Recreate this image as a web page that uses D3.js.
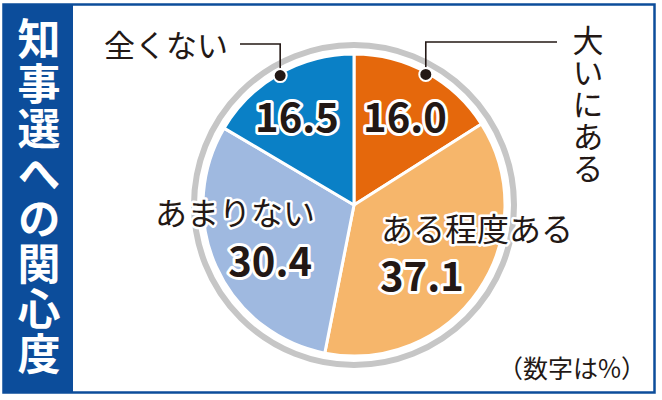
<!DOCTYPE html>
<html>
<head>
<meta charset="utf-8">
<script src="https://cdn.jsdelivr.net/npm/d3@7"></script>
<style>
  html, body { margin: 0; padding: 0; background: #fff; }
  svg { display: block; }
  text { font-family: "Noto Sans CJK JP", "Noto Sans", sans-serif; }
</style>
</head>
<body>
<svg id="chart" width="662" height="400"></svg>
<script>
// Data
const categories = ['大いにある', 'ある程度ある', 'あまりない', '全くない'];
const values = [16.0, 37.1, 30.4, 16.5];
const valueLabels = ['16.0', '37.1', '30.4', '16.5'];
const colors = ['#e5680c', '#f6b66b', '#9fb9e0', '#0a80c6'];
const title = '知事選への関心度';
const note = '（数字は%）';

const NAVY = '#0c4d9b';
const W = 662, H = 400;
const cx = 354, cy = 205, R = 151;

const svg = d3.select('#chart');

// frame + left title panel
svg.append('rect')
  .attr('x', 3.5).attr('y', 4.5).attr('width', 651).attr('height', 388)
  .attr('fill', '#fff').attr('stroke', NAVY).attr('stroke-width', 2.5);
svg.append('rect')
  .attr('x', 3).attr('y', 4).attr('width', 70).attr('height', 389)
  .attr('fill', NAVY);

// vertical title
svg.append('text')
  .attr('x', 39).attr('y', 17)
  .style('writing-mode', 'vertical-rl')
  .style('text-orientation', 'upright')
  .attr('font-size', 43)
  .attr('font-weight', 700)
  .attr('letter-spacing', 2)
  .attr('fill', '#fff')
  .text(title);

// pie
const g = svg.append('g').attr('transform', `translate(${cx},${cy})`);

g.append('circle')
  .attr('r', 160)
  .attr('fill', 'none')
  .attr('stroke', '#c6c6c6')
  .attr('stroke-width', 6);

const pie = d3.pie().sort(null).value(d => d)(values);
const arc = d3.arc().innerRadius(0).outerRadius(R);

g.selectAll('path.slice')
  .data(pie)
  .join('path')
  .attr('class', 'slice')
  .attr('d', arc)
  .attr('fill', (d, i) => colors[i])
  .attr('stroke', '#fff')
  .attr('stroke-width', 3)
  .attr('stroke-linejoin', 'round');

// leader dots sit on the rim at each small slice's mid angle
const rimPos = (d, r) => {
  const a = (d.startAngle + d.endAngle) / 2;
  return [cx + r * Math.sin(a), cy - r * Math.cos(a)];
};

const leaders = [
  { idx: 0, lineY: 42, endX: 557 },
  { idx: 3, lineY: 44, endX: 240 }
];
leaders.forEach(l => {
  const [px, py] = rimPos(pie[l.idx], 149);
  svg.append('path')
    .attr('d', `M${px},${py} V${l.lineY} H${l.endX}`)
    .attr('fill', 'none')
    .attr('stroke', '#231815')
    .attr('stroke-width', 1.6);
  svg.append('circle')
    .attr('cx', px).attr('cy', py).attr('r', 6.5)
    .attr('fill', '#231815')
    .attr('stroke', '#fff').attr('stroke-width', 2);
});

// outside labels
svg.append('text')
  .attr('x', 104).attr('y', 57)
  .attr('font-size', 31)
  .attr('fill', '#231815')
  .text(categories[3]);

svg.append('text')
  .attr('x', 588).attr('y', 25)
  .style('writing-mode', 'vertical-rl')
  .style('text-orientation', 'upright')
  .attr('font-size', 31)
  .attr('letter-spacing', 1)
  .attr('fill', '#231815')
  .text(categories[0]);

// inside labels (halo)
const halo = sel => sel
  .attr('fill', '#231815')
  .attr('stroke', '#fff')
  .attr('stroke-linejoin', 'round')
  .style('paint-order', 'stroke');

const catLabels = [
  { idx: 2, x: 315, y: 225, anchor: 'end' },
  { idx: 1, x: 381, y: 241, anchor: 'start' }
];
catLabels.forEach(c => {
  svg.append('text')
    .attr('x', c.x).attr('y', c.y)
    .attr('text-anchor', c.anchor)
    .attr('font-size', 32)
    .attr('stroke-width', 5)
    .call(halo)
    .text(categories[c.idx]);
});

const numLabels = [
  { idx: 0, x: 405, y: 132, anchor: 'middle' },
  { idx: 1, x: 380, y: 291, anchor: 'start' },
  { idx: 2, x: 312, y: 276, anchor: 'end' },
  { idx: 3, x: 297, y: 132, anchor: 'middle' }
];
numLabels.forEach(n => {
  svg.append('text')
    .attr('x', n.x).attr('y', n.y)
    .attr('text-anchor', n.anchor)
    .attr('font-family', '"Liberation Sans", Arial, sans-serif')
    .attr('font-size', 40)
    .attr('font-weight', 700)
    .attr('stroke-width', 6)
    .call(halo)
    .text(valueLabels[n.idx]);
});

// unit note
svg.append('text')
  .attr('x', 646).attr('y', 378)
  .attr('text-anchor', 'end')
  .attr('font-size', 25)
  .attr('fill', '#231815')
  .text(note);
</script>
</body>
</html>
